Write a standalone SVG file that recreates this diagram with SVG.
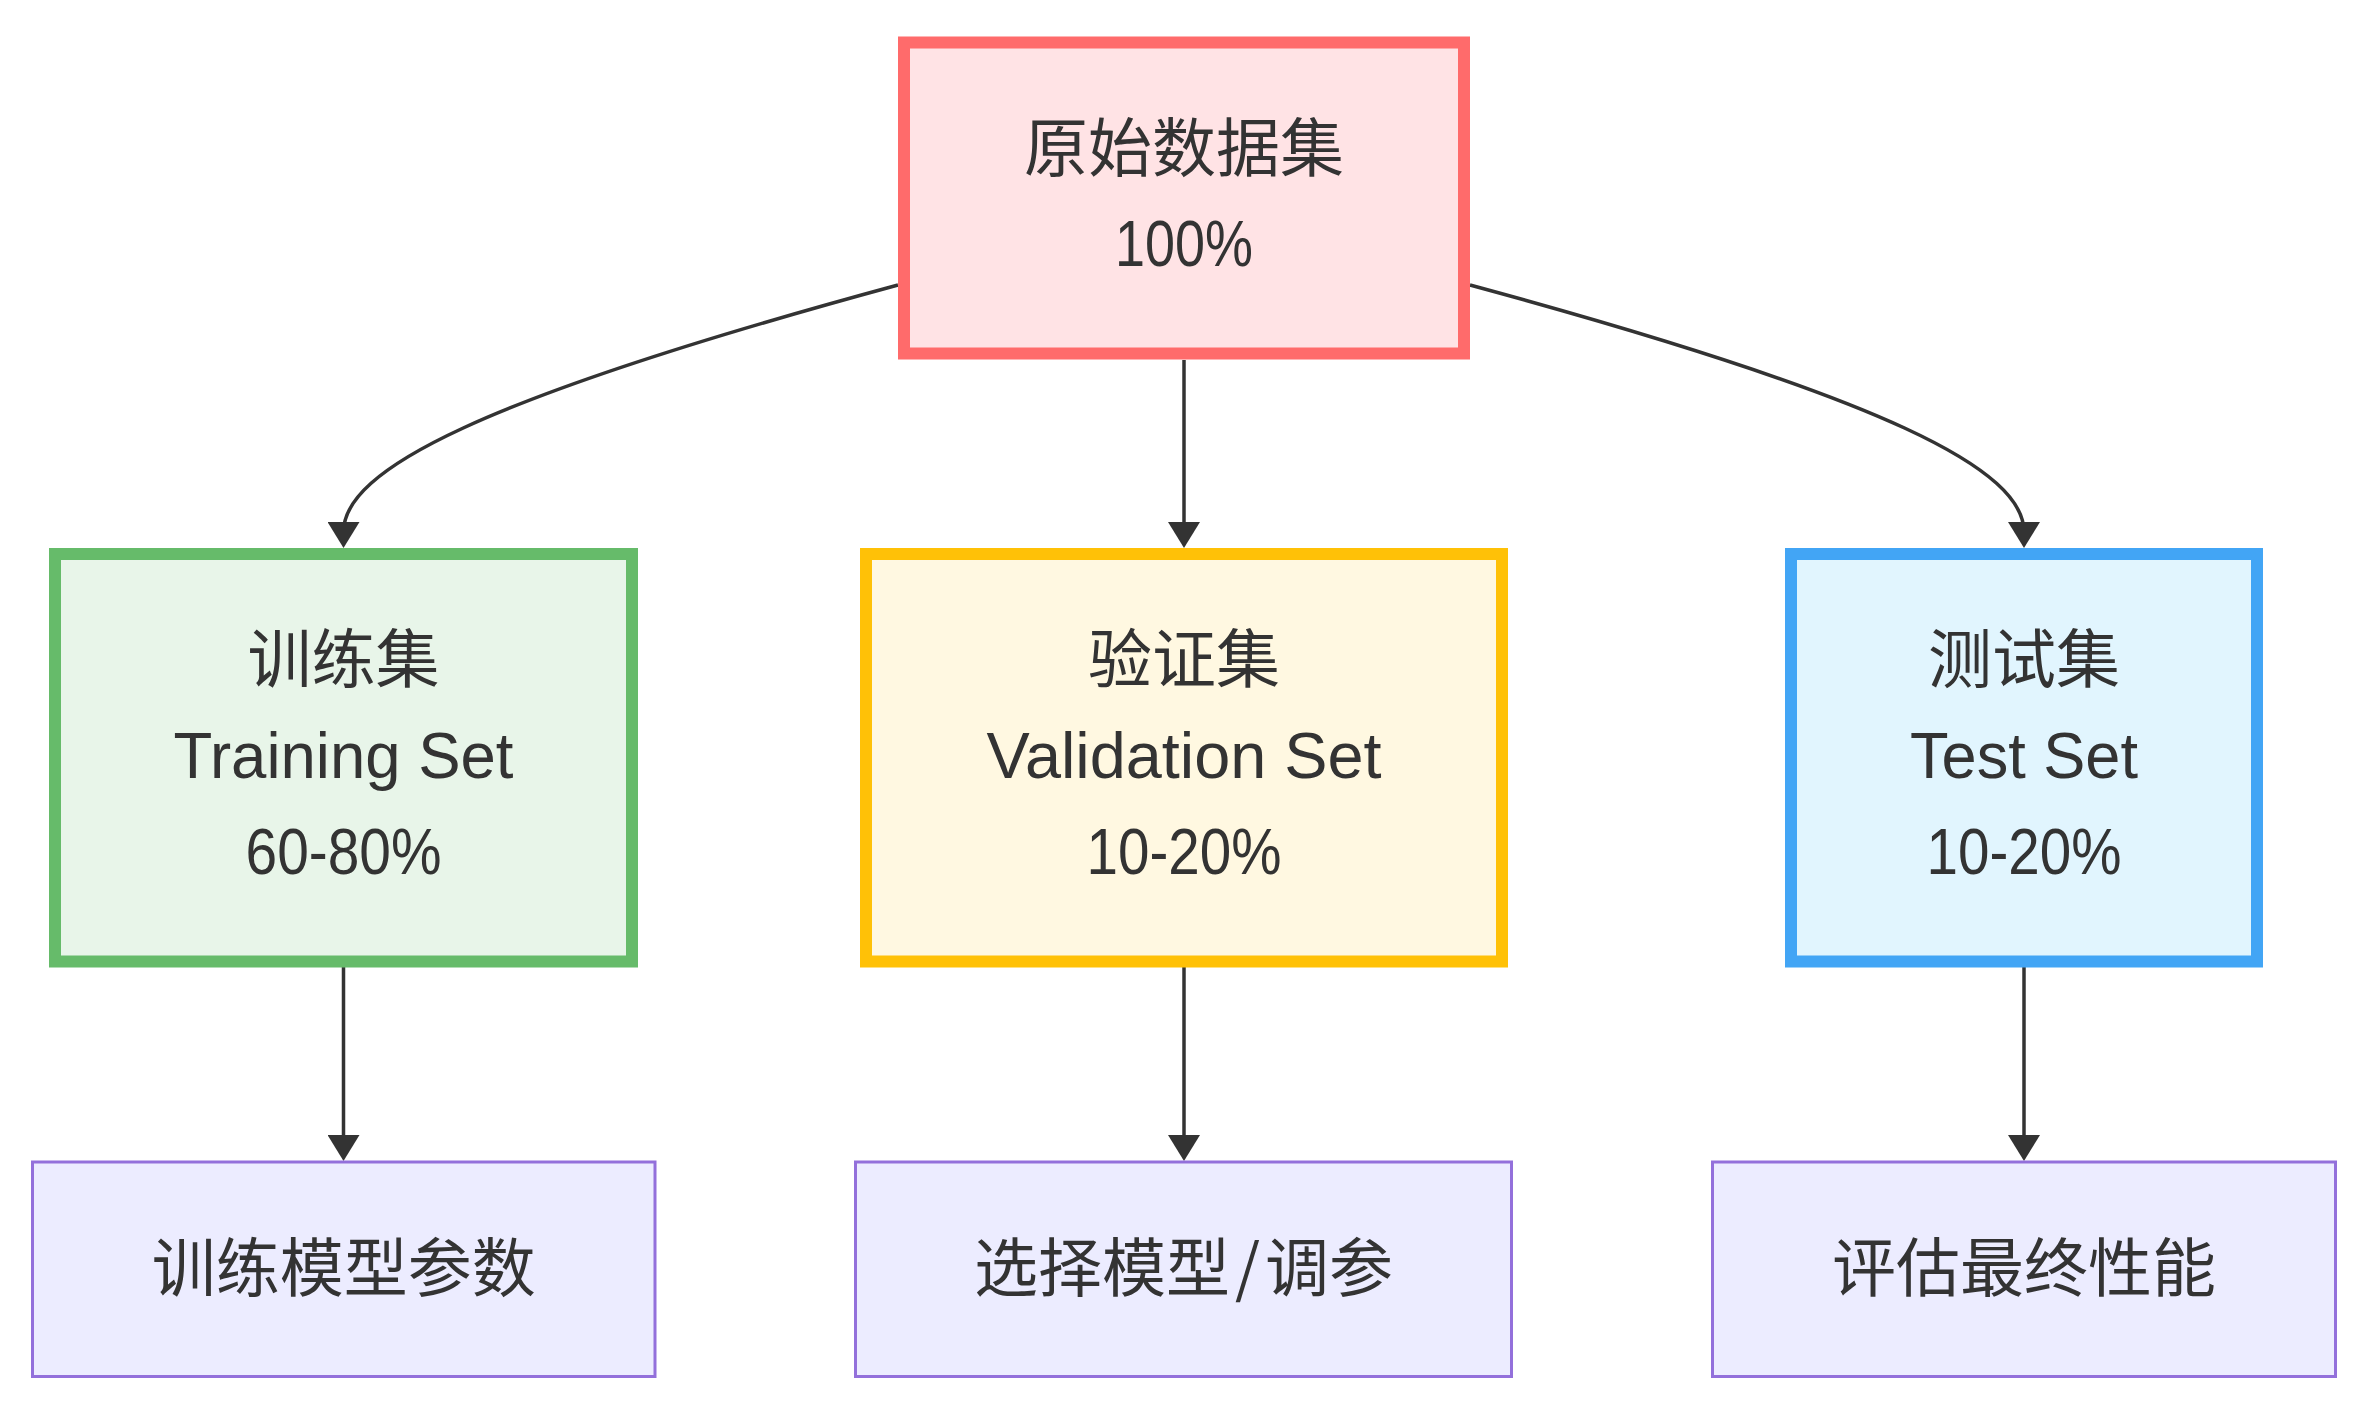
<svg xmlns="http://www.w3.org/2000/svg" width="2368" height="1420" viewBox="0 0 2368 1420">
  <style>
    .bg { fill: #ffffff; }
    .lbl { fill: #333333; font-size: 64px; text-anchor: middle; font-family: "Liberation Sans", "Noto Sans CJK SC", sans-serif; }
    .cjk { font-family: "Noto Sans CJK SC", "Liberation Sans", sans-serif; }
    .edge { fill: none; stroke: #333333; stroke-width: 3.5; }
    .plain { fill: #ececff; stroke: #9370db; stroke-width: 3; }
  </style>
  <defs>
    <marker id="arrow" markerUnits="userSpaceOnUse" markerWidth="26" markerHeight="32" viewBox="0 0 26 32" refX="10" refY="16" orient="auto">
      <path d="M0,0 L26,16 L0,32 z" fill="#333333"/>
    </marker>
  </defs>
  <rect class="bg" x="0" y="0" width="2368" height="1420"/>

  <g id="connectors">
    <path class="edge" d="M 898 285 C 478 399, 343.5 470, 343.5 532" marker-end="url(#arrow)"/>
    <path class="edge" d="M 1184 360 L 1184 532" marker-end="url(#arrow)"/>
    <path class="edge" d="M 1470 285 C 1890 399, 2024 470, 2024 532" marker-end="url(#arrow)"/>
    <path class="edge" d="M 343.5 967 L 343.5 1145" marker-end="url(#arrow)"/>
    <path class="edge" d="M 1184 967 L 1184 1145" marker-end="url(#arrow)"/>
    <path class="edge" d="M 2024 967 L 2024 1145" marker-end="url(#arrow)"/>
  </g>

  <g id="node-raw">
    <rect x="904" y="42.5" width="560" height="311" fill="#ffe3e5" stroke="#ff6b6b" stroke-width="12"/>
    <text class="lbl cjk" x="1184" y="171">原始数据集</text>
    <text class="lbl" x="1184" y="266" textLength="138" lengthAdjust="spacingAndGlyphs">100%</text>
  </g>

  <g id="node-train">
    <rect x="55" y="554" width="577" height="407.5" fill="#e8f5e9" stroke="#66bb6a" stroke-width="12"/>
    <text class="lbl cjk" x="343.5" y="682">训练集</text>
    <text class="lbl" x="343.5" y="778" textLength="340" lengthAdjust="spacingAndGlyphs">Training Set</text>
    <text class="lbl" x="343.5" y="874" textLength="196" lengthAdjust="spacingAndGlyphs">60-80%</text>
  </g>

  <g id="node-val">
    <rect x="866" y="554" width="636" height="407.5" fill="#fff8e1" stroke="#ffc107" stroke-width="12"/>
    <text class="lbl cjk" x="1184" y="682">验证集</text>
    <text class="lbl" x="1184" y="778" textLength="395" lengthAdjust="spacingAndGlyphs">Validation Set</text>
    <text class="lbl" x="1184" y="874" textLength="195" lengthAdjust="spacingAndGlyphs">10-20%</text>
  </g>

  <g id="node-test">
    <rect x="1791" y="554" width="466" height="407.5" fill="#e1f5fe" stroke="#42a5f5" stroke-width="12"/>
    <text class="lbl cjk" x="2024" y="682">测试集</text>
    <text class="lbl" x="2024" y="778" textLength="228" lengthAdjust="spacingAndGlyphs">Test Set</text>
    <text class="lbl" x="2024" y="874" textLength="195" lengthAdjust="spacingAndGlyphs">10-20%</text>
  </g>

  <g id="node-train-use">
    <rect class="plain" x="32.5" y="1162" width="622.5" height="214.5"/>
    <text class="lbl cjk" x="343.75" y="1291">训练模型参数</text>
  </g>

  <g id="node-val-use">
    <rect class="plain" x="855.5" y="1162" width="656" height="214.5"/>
    <text class="lbl cjk" x="1183.5" y="1291">选择模型<tspan dx="5">/</tspan><tspan dx="5">调参</tspan></text>
  </g>

  <g id="node-test-use">
    <rect class="plain" x="1712.5" y="1162" width="623" height="214.5"/>
    <text class="lbl cjk" x="2024" y="1291">评估最终性能</text>
  </g>
</svg>
